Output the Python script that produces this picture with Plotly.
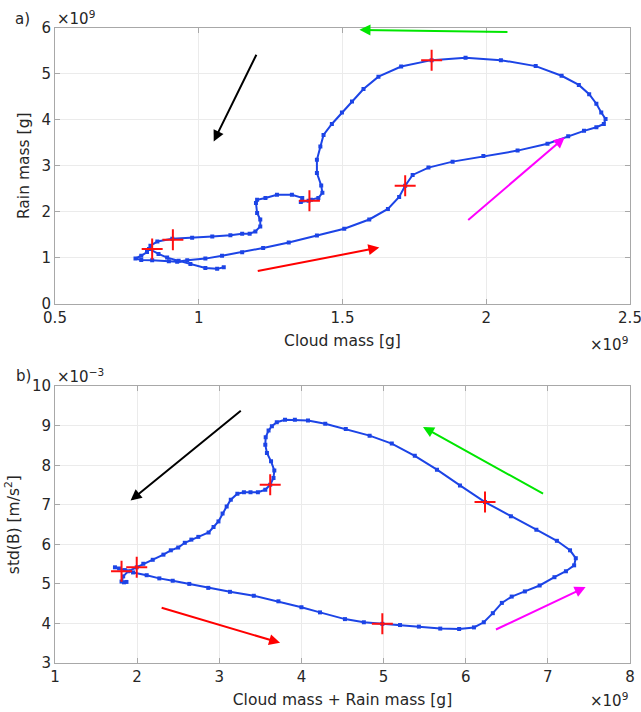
import plotly.graph_objects as go
from plotly.subplots import make_subplots

# ---- panel a: rain mass vs cloud mass (units of 1e9 g) ----
cloud_a = [0.82, 0.80, 0.78, 0.80, 0.838, 0.896, 0.925, 0.96, 1.023, 1.081,
           1.151, 1.224, 1.313, 1.411, 1.506, 1.593, 1.658, 1.697, 1.718, 1.744,
           1.799, 1.883, 1.99, 2.109, 2.213, 2.285, 2.34, 2.383, 2.409, 2.415,
           2.40, 2.383, 2.358, 2.322, 2.262, 2.172, 2.051, 1.928, 1.81, 1.704,
           1.625, 1.573, 1.533, 1.498, 1.463, 1.434, 1.423, 1.411, 1.411, 1.426,
           1.43, 1.416, 1.39, 1.382, 1.355, 1.36, 1.324, 1.272, 1.232, 1.203,
           1.199, 1.203, 1.214, 1.214, 1.197, 1.177, 1.151, 1.11, 1.047, 0.977,
           0.908, 0.856, 0.832, 0.827, 0.86, 0.89, 0.93, 0.971, 1.023, 1.064,
           1.087]
rain_a = [1.12, 1.04, 0.98, 0.95, 0.94, 0.92, 0.91, 0.94, 0.978, 1.04,
          1.115, 1.21, 1.33, 1.48, 1.63, 1.83, 2.06, 2.32, 2.565, 2.80,
          2.96, 3.09, 3.21, 3.33, 3.48, 3.64, 3.76, 3.84, 3.91, 4.02,
          4.16, 4.35, 4.56, 4.76, 4.96, 5.17, 5.30, 5.35, 5.30, 5.16,
          4.94, 4.67, 4.40, 4.16, 3.91, 3.67, 3.42, 3.13, 2.84, 2.57,
          2.41, 2.30, 2.26, 2.24, 2.21, 2.30, 2.37, 2.37, 2.30, 2.26,
          2.19, 1.97, 1.83, 1.68, 1.57, 1.52, 1.52, 1.485, 1.46, 1.43,
          1.41, 1.35, 1.26, 1.19, 1.08, 1.00, 0.93, 0.86, 0.776, 0.755,
          0.79]
cross_cloud_a = [0.838, 1.718, 1.81, 1.385, 0.91]
cross_rain_a = [1.19, 2.565, 5.30, 2.24, 1.39]

# ---- panel b: std(B) vs total condensate mass ----
total_b = [1.73, 1.78, 1.85, 1.95, 2.116, 2.27, 2.433, 2.635, 2.866, 3.13,
           3.42, 3.72, 4.00, 4.226, 4.53, 4.76, 4.985, 5.20, 5.43, 5.69,
           5.92, 6.10, 6.22, 6.33, 6.44, 6.56, 6.72, 6.90, 7.08, 7.22,
           7.32, 7.34, 7.27, 7.11, 6.86, 6.55, 6.235, 5.93, 5.65, 5.38,
           5.10, 4.83, 4.54, 4.29, 4.08, 3.92, 3.80, 3.70, 3.64, 3.60,
           3.565, 3.56, 3.58, 3.63, 3.67, 3.66, 3.62, 3.56, 3.47, 3.38,
           3.30, 3.22, 3.14, 3.09, 3.04, 2.99, 2.93, 2.87, 2.745, 2.66,
           2.58, 2.50, 2.41, 2.32, 2.19, 2.075, 1.995, 1.89, 1.83, 1.81,
           1.84, 1.87]
stdb_b = [5.42, 5.39, 5.35, 5.29, 5.22, 5.14, 5.08, 5.00, 4.90, 4.80,
          4.70, 4.56, 4.41, 4.28, 4.11, 4.03, 3.99, 3.96, 3.92, 3.87,
          3.86, 3.90, 4.03, 4.26, 4.52, 4.68, 4.81, 4.96, 5.17, 5.32,
          5.47, 5.65, 5.85, 6.09, 6.37, 6.71, 7.07, 7.49, 7.89, 8.24,
          8.55, 8.75, 8.92, 9.05, 9.13, 9.15, 9.15, 9.09, 8.99, 8.88,
          8.71, 8.52, 8.31, 8.10, 7.87, 7.68, 7.51, 7.38, 7.32, 7.32,
          7.32, 7.28, 7.13, 6.96, 6.78, 6.58, 6.44, 6.30, 6.19, 6.12,
          6.04, 5.92, 5.85, 5.74, 5.61, 5.51, 5.42, 5.32, 5.19, 5.06,
          5.04, 5.05]
cross_total_b = [1.81, 4.985, 6.235, 3.62, 1.995]
cross_stdb_b = [5.32, 3.99, 7.07, 7.51, 5.42]

# ---- direction arrows: (tail_x, tail_y, head_x, head_y, colour) ----
arrows_a = [
    (1.203, 5.45, 1.052, 3.53, "#000000"),
    (1.20, 0.70, 1.628, 1.22, "#ff0000"),
    (1.932, 1.79, 2.273, 3.62, "#ff00ff"),
    (2.079, 5.91, 1.559, 5.96, "#00e600"),
]
arrows_b = [
    (3.28, 9.41, 1.92, 7.11, "#000000"),
    (2.28, 4.41, 3.74, 3.51, "#ff0000"),
    (6.35, 3.83, 7.46, 4.92, "#ff00ff"),
    (6.96, 7.26, 5.48, 8.97, "#00e600"),
]

ticks_a_x = [0.5, 1, 1.5, 2, 2.5]
ticks_a_y = [0, 1, 2, 3, 4, 5, 6]
ticks_b_x = [1, 2, 3, 4, 5, 6, 7, 8]
ticks_b_y = [3, 4, 5, 6, 7, 8, 9, 10]

FONT = "DejaVu Sans"
TXT = "#262626"
BLUE = "#1c44e6"
FRAME = "#a8a8a8"

fig = make_subplots(rows=2, cols=1, vertical_spacing=0.13)
fig.update_layout(
    yaxis=dict(domain=[0.5661, 1.0]),
    yaxis2=dict(domain=[0.0, 0.4359]),
)

for row, xs, ys, cx, cy in [(1, cloud_a, rain_a, cross_cloud_a, cross_rain_a),
                            (2, total_b, stdb_b, cross_total_b, cross_stdb_b)]:
    fig.add_trace(go.Scatter(
        x=xs, y=ys, mode="lines+markers",
        line=dict(color=BLUE, width=2),
        marker=dict(symbol="square", size=4, color=BLUE),
        showlegend=False, hoverinfo="skip"), row=row, col=1)
    fig.add_trace(go.Scatter(
        x=cx, y=cy, mode="markers",
        marker=dict(symbol="cross-thin", size=15, color="#ff1010",
                    line=dict(color="#ff1010", width=2)),
        showlegend=False, hoverinfo="skip"), row=row, col=1)

axis_common = dict(
    automargin=False, ticklabeloverflow="allow",
    showline=True, linecolor=FRAME, linewidth=1, mirror="ticks",
    ticks="inside", ticklen=5, tickcolor=FRAME,
    showgrid=True, gridcolor="#ebebeb", gridwidth=1, zeroline=False,
    tickfont=dict(family=FONT, size=15, color=TXT),
)
title_font = dict(family=FONT, size=15.5, color=TXT)

fig.update_xaxes(range=[0.5, 2.5], tickvals=ticks_a_x,
                 ticktext=[f"{v:g}" for v in ticks_a_x],
                 title=dict(text="Cloud mass [g]", font=title_font, standoff=9),
                 row=1, col=1, **axis_common)
fig.update_yaxes(range=[0, 6], tickvals=ticks_a_y,
                 ticktext=[f"{v:g}" for v in ticks_a_y],
                 title=dict(text="Rain mass [g]", font=title_font, standoff=8),
                 row=1, col=1, **axis_common)
fig.update_xaxes(range=[1, 8], tickvals=ticks_b_x,
                 ticktext=[f"{v:g}" for v in ticks_b_x],
                 title=dict(text="Cloud mass + Rain mass [g]", font=title_font, standoff=9),
                 row=2, col=1, **axis_common)
fig.update_yaxes(range=[3, 10], tickvals=ticks_b_y,
                 ticktext=[f"{v:g}" for v in ticks_b_y],
                 title=dict(text="std(B) [m/s<sup>2</sup>]", font=title_font, standoff=8),
                 row=2, col=1, **axis_common)

for arrows, xr, yr in [(arrows_a, "x", "y"), (arrows_b, "x2", "y2")]:
    for tx, ty, hx, hy, col in arrows:
        fig.add_annotation(x=hx, y=hy, ax=tx, ay=ty, xref=xr, yref=yr,
                           axref=xr, ayref=yr, text="", showarrow=True,
                           arrowhead=2, arrowsize=1.1, arrowwidth=2,
                           arrowcolor=col, standoff=0, startstandoff=0)

# exponent labels and panel letters
txt = dict(family=FONT, size=15, color=TXT)
notes = [
    ("\u00d710<sup>9</sup>", 0.0, 1.0, "left", "bottom", 0, -2),
    ("\u00d710<sup>9</sup>", 1.0, 0.5661, "right", "top", 0, -28),
    ("\u00d710<sup>\u22123</sup>", 0.0, 0.4359, "left", "bottom", 0, -2),
    ("\u00d710<sup>9</sup>", 1.0, 0.0, "right", "top", 0, -25),
    ("a)", -0.04, 1.0, "right", "bottom", 0, -2),
    ("b)", -0.038, 0.4359, "right", "bottom", 0, -1),
]
for t, x, y, xa, ya, xs, ys in notes:
    fig.add_annotation(text=t, x=x, y=y, xref="paper", yref="paper",
                       xanchor=xa, yanchor=ya, xshift=xs, yshift=ys,
                       showarrow=False, font=txt)

fig.update_layout(
    width=641, height=712,
    margin=dict(l=55, r=11, t=28, b=49, autoexpand=False),
    paper_bgcolor="white", plot_bgcolor="white",
    font=dict(family=FONT, color=TXT),
)

fig.write_html("out.html")
